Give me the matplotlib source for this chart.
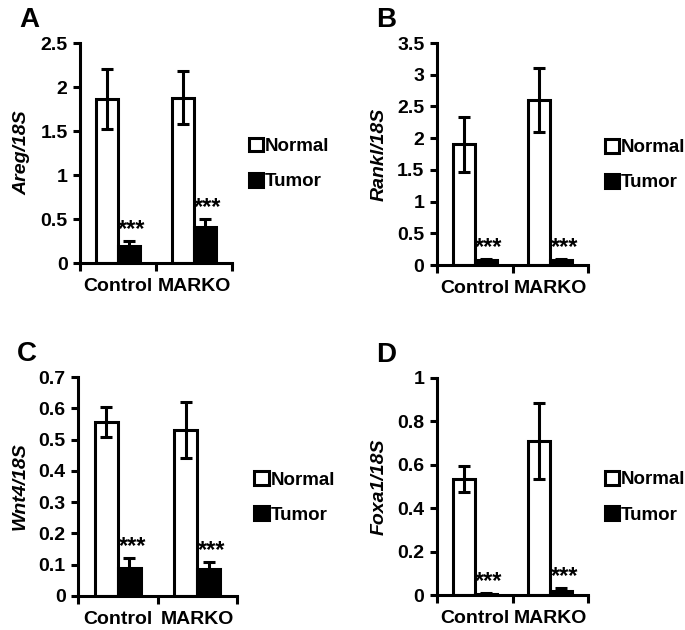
import matplotlib
matplotlib.use("Agg")
from matplotlib import pyplot as plt
from matplotlib.ticker import FuncFormatter, FixedLocator

plt.rcParams['font.family'] = ['Liberation Sans', 'DejaVu Sans']
plt.rcParams['font.weight'] = 'bold'

groups = ["Control", "MARKO"]
series = ["Normal", "Tumor"]

# panel A - Areg
aregNormal = [1.86, 1.88]
aregNormalErr = [0.34, 0.30]
aregTumor = [0.19, 0.41]
aregTumorErr = [0.06, 0.09]

# panel B - Rankl
ranklNormal = [1.90, 2.60]
ranklNormalErr = [0.43, 0.50]
ranklTumor = [0.08, 0.08]
ranklTumorErr = [0.02, 0.02]

# panel C - Wnt4
wnt4Normal = [0.556, 0.53]
wnt4NormalErr = [0.047, 0.09]
wnt4Tumor = [0.088, 0.085]
wnt4TumorErr = [0.032, 0.023]

# panel D - Foxa1
foxa1Normal = [0.535, 0.71]
foxa1NormalErr = [0.06, 0.175]
foxa1Tumor = [0.005, 0.02]
foxa1TumorErr = [0.003, 0.01]

LW = 2.2
FS = 14


def fmt(v, pos):
    return "%g" % round(v, 3)


def drawPanel(rect, letter, ylabel, ymax, ystep, normal, normalErr, tumor, tumorErr):
    fig = plt.gcf()
    W, H = 685.0, 630.0
    left, top, right, bottom = rect
    ax = fig.add_axes([left / W, 1 - bottom / H, (right - left) / W, (bottom - top) / H])

    centers = [0.5, 1.5]
    width = 0.29
    xN = [c - width / 2 for c in centers]
    xT = [c + width / 2 for c in centers]

    err_kw = dict(elinewidth=LW, capthick=LW, ecolor='black')
    ax.bar(xN, normal, width, yerr=normalErr, capsize=4.3, color='white',
           edgecolor='black', linewidth=LW, label=series[0], error_kw=err_kw, zorder=2)
    ax.bar(xT, tumor, width, yerr=tumorErr, capsize=4.3, color='black',
           edgecolor='black', linewidth=LW, label=series[1], error_kw=err_kw, zorder=2)

    for x, v, e in zip(xT, tumor, tumorErr):
        ax.text(x + 0.04, v + e, "***", ha='center', va='bottom', fontsize=17,
                fontweight='bold')

    ax.set_xlim(0, 2)
    ax.set_ylim(0, ymax)
    ticks = [i * ystep for i in range(int(round(ymax / ystep)) + 1)]
    ax.set_yticks(ticks)
    ax.yaxis.set_major_formatter(FuncFormatter(fmt))

    ax.set_xticks(centers)
    ax.set_xticklabels(groups)
    ax.xaxis.set_minor_locator(FixedLocator([0, 1, 2]))
    ax.tick_params(axis='x', which='major', length=0, pad=11, labelsize=FS)
    ax.tick_params(axis='x', which='minor', length=6, width=LW, direction='out')
    ax.tick_params(axis='y', length=5, width=LW, direction='out', labelsize=FS, pad=4)
    for lab in ax.get_xticklabels() + ax.get_yticklabels():
        lab.set_fontweight('bold')

    for s in ['top', 'right']:
        ax.spines[s].set_visible(False)
    for s in ['left', 'bottom']:
        ax.spines[s].set_linewidth(LW)
    ax.spines['bottom'].set_zorder(3)

    ax.set_ylabel(ylabel, fontsize=FS, fontstyle='italic', fontweight='bold', labelpad=7)

    ax.legend(loc='center left', bbox_to_anchor=(1.11, 0.45), frameon=False,
              borderaxespad=0, borderpad=0, handlelength=0.75, handleheight=0.75,
              handletextpad=0.1, labelspacing=0.95,
              prop={'size': 13.5, 'weight': 'bold'})

    fig.text((left - 61) / W, 1 - (top - 16) / H, letter, fontsize=20,
             fontweight='bold', va='baseline', ha='left')
    return ax


fig = plt.figure(figsize=(6.85, 6.3), dpi=100)

drawPanel((80, 43, 232, 263), "A", "Areg/18S", 2.5, 0.5,
          aregNormal, aregNormalErr, aregTumor, aregTumorErr)
drawPanel((437, 43, 588, 265), "B", "Rankl/18S", 3.5, 0.5,
          ranklNormal, ranklNormalErr, ranklTumor, ranklTumorErr)
drawPanel((78, 377, 237, 596), "C", "Wnt4/18S", 0.7, 0.1,
          wnt4Normal, wnt4NormalErr, wnt4Tumor, wnt4TumorErr)
drawPanel((437, 378, 588, 595), "D", "Foxa1/18S", 1.0, 0.2,
          foxa1Normal, foxa1NormalErr, foxa1Tumor, foxa1TumorErr)

fig.savefig("out.png", dpi=100)
